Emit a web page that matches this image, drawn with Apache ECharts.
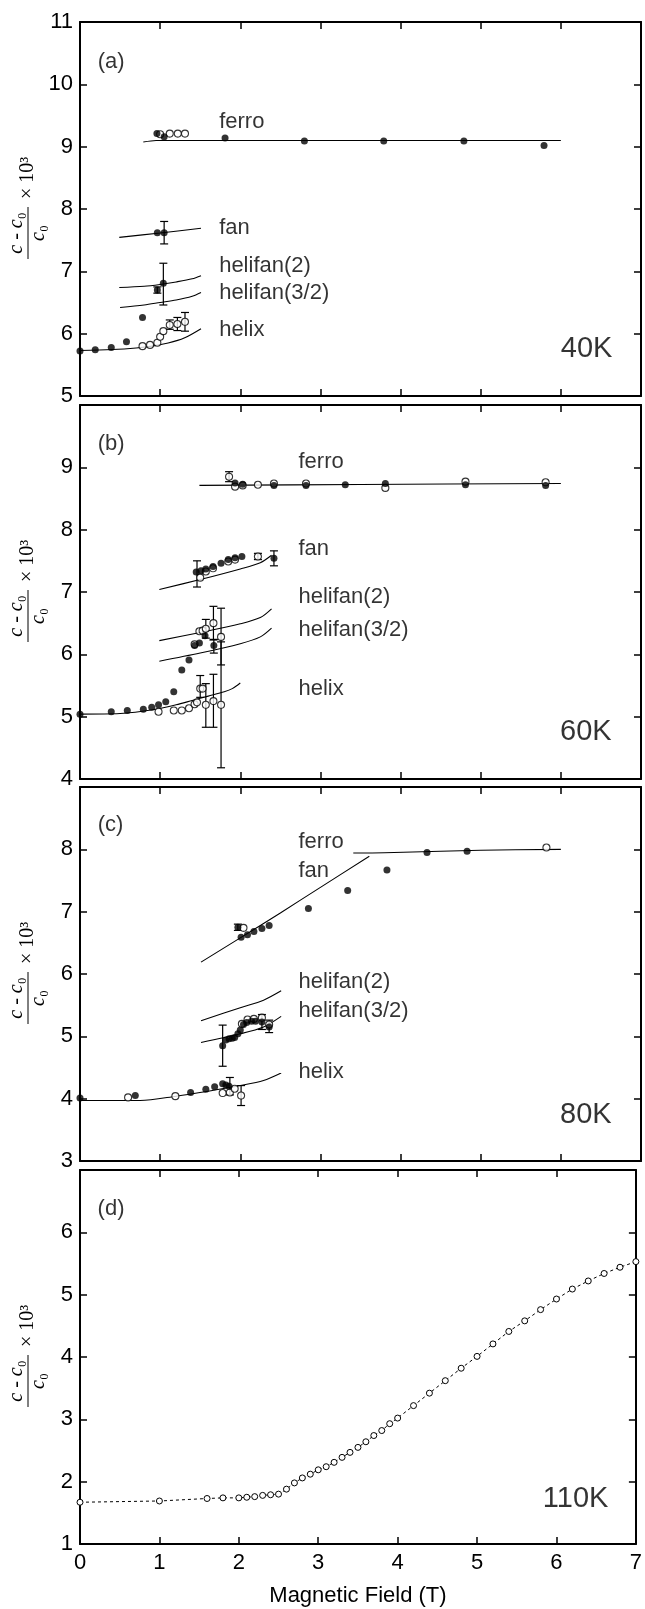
<!DOCTYPE html>
<html>
<head>
<meta charset="utf-8">
<script src="https://cdn.jsdelivr.net/npm/echarts@6/dist/echarts.min.js"></script>
<style>
	html, body { margin: 0; padding: 0; background: #fff; }
	#grafico { width: 645px; height: 1609px; }
</style>
</head>
<body>
<div id="grafico"></div>
<script>
// Valores: campo magnético (T) vs (c - c0)/c0 x 10^3

// ---- Panel (a) 40K ----
const ajusteFerroA = [[0.79, 9.075], [0.95, 9.1], [2, 9.1], [6.0, 9.1]]
const ajusteFanA = [[0.49, 7.545], [1.0, 7.615], [1.51, 7.69]]
const ajusteHelifan2A = [[0.49, 6.74], [0.8, 6.76], [1.0, 6.79], [1.2, 6.83], [1.4, 6.88], [1.51, 6.93]]
const ajusteHelifan32A = [[0.5, 6.42], [0.8, 6.46], [1.0, 6.5], [1.2, 6.54], [1.4, 6.6], [1.51, 6.66]]
const ajusteHelixA = [[0, 5.73], [0.4, 5.745], [0.7, 5.77], [0.9, 5.8], [1.1, 5.85], [1.3, 5.93], [1.51, 6.08]]
const llenosA = [
	[0, 5.72], [0.19, 5.74], [0.39, 5.78], [0.58, 5.87], [0.78, 6.26],
	[0.965, 6.7], [1.04, 6.81], [0.965, 7.62], [1.05, 7.62],
	[0.96, 9.21], [1.05, 9.16], [1.81, 9.14], [2.8, 9.09], [3.79, 9.09], [4.79, 9.09], [5.79, 9.02],
]
const vaciosA = [
	[0.78, 5.8], [0.874, 5.82], [0.965, 5.855], [1.0, 5.95], [1.04, 6.04],
	[1.12, 6.14], [1.215, 6.155], [1.31, 6.19],
	[1.0, 9.2], [1.12, 9.21], [1.22, 9.21], [1.31, 9.21],
]
const erroresA = [
	[1.05, 7.44, 7.8], [1.04, 6.46, 7.13], [0.965, 6.65, 6.75],
	[1.12, 6.07, 6.22], [1.215, 6.05, 6.26], [1.31, 6.04, 6.34],
]

// ---- Panel (b) 60K ----
const ajusteFerroB = [[1.49, 8.71], [3.5, 8.725], [6.0, 8.74]]
const ajusteFanB = [[0.99, 7.04], [1.5, 7.2], [2.0, 7.37], [2.25, 7.47], [2.39, 7.59]]
const ajusteHelifan2B = [[0.99, 6.22], [1.5, 6.35], [2.0, 6.49], [2.25, 6.59], [2.39, 6.73]]
const ajusteHelifan32B = [[0.99, 5.89], [1.5, 6.02], [2.0, 6.17], [2.25, 6.28], [2.39, 6.42]]
const ajusteHelixB = [[0, 5.04], [0.5, 5.05], [0.8, 5.09], [1.0, 5.13], [1.2, 5.19], [1.4, 5.26], [1.6, 5.33], [1.8, 5.4], [1.9, 5.45], [2.0, 5.54]]
const llenosB = [
	[0, 5.04], [0.39, 5.08], [0.59, 5.1], [0.79, 5.12], [0.895, 5.15], [0.98, 5.19], [1.07, 5.24],
	[1.17, 5.4], [1.27, 5.75], [1.36, 5.91], [1.43, 6.14], [1.49, 6.18], [1.56, 6.3], [1.67, 6.14],
	[1.45, 7.32], [1.51, 7.34], [1.57, 7.37], [1.66, 7.41], [1.76, 7.46], [1.85, 7.52], [1.935, 7.55], [2.02, 7.57], [2.42, 7.54],
	[1.935, 8.75], [2.03, 8.73], [2.42, 8.71], [2.82, 8.71], [3.31, 8.72], [3.81, 8.74], [4.81, 8.72], [5.81, 8.71],
]
const vaciosB = [
	[0.98, 5.08], [1.17, 5.1], [1.27, 5.1], [1.36, 5.135], [1.43, 5.2], [1.46, 5.23], [1.5, 5.45], [1.53, 5.45],
	[1.57, 5.19], [1.665, 5.25], [1.76, 5.19],
	[1.43, 6.16], [1.49, 6.37], [1.53, 6.38], [1.57, 6.41], [1.665, 6.5], [1.76, 6.28],
	[1.5, 7.23], [1.57, 7.33], [1.66, 7.38], [1.85, 7.49], [1.935, 7.52], [2.22, 7.57],
	[1.86, 8.85], [1.935, 8.69], [2.03, 8.71], [2.22, 8.72], [2.42, 8.74], [2.82, 8.74], [3.81, 8.67], [4.81, 8.77], [5.81, 8.76],
]
const erroresB = [
	[1.86, 8.77, 8.93], [1.46, 7.08, 7.5], [2.22, 7.52, 7.62], [2.42, 7.42, 7.66],
	[1.57, 6.26, 6.56], [1.665, 6.23, 6.77], [1.76, 5.83, 6.74], [1.67, 6.02, 6.24],
	[1.5, 5.31, 5.66], [1.57, 4.83, 5.53], [1.665, 4.83, 5.68], [1.76, 4.18, 6.2],
]

// ---- Panel (c) 80K ----
const ajusteFerroC = [[3.41, 7.94], [3.8, 7.945], [4.5, 7.97], [5.0, 7.985], [6.0, 8.0]]
const ajusteFanC = [[1.51, 6.19], [2.0, 6.58], [2.5, 6.98], [3.0, 7.39], [3.61, 7.89]]
const ajusteHelifan2C = [[1.51, 5.25], [2.0, 5.46], [2.29, 5.58], [2.51, 5.73]]
const ajusteHelifan32C = [[1.51, 4.9], [2.0, 5.04], [2.29, 5.15], [2.51, 5.32]]
const ajusteHelixC = [[0, 3.97], [0.75, 3.97], [1.2, 4.04], [1.6, 4.12], [2.0, 4.21], [2.29, 4.29], [2.51, 4.41]]
const llenosC = [
	[0, 4.01], [0.69, 4.05], [1.38, 4.1], [1.57, 4.15], [1.68, 4.19], [1.78, 4.24], [1.82, 4.22], [1.86, 4.2],
	[1.78, 4.85], [1.82, 4.94], [1.86, 4.96], [1.9, 4.97], [1.93, 4.98], [1.97, 5.04], [2.0, 5.1], [2.04, 5.19],
	[2.08, 5.22], [2.14, 5.24], [2.19, 5.24], [2.27, 5.23], [2.36, 5.15],
	[1.97, 6.75], [2.01, 6.59], [2.09, 6.63], [2.17, 6.68], [2.27, 6.73], [2.36, 6.78],
	[2.85, 7.05], [3.34, 7.34], [3.83, 7.67], [4.33, 7.95], [4.83, 7.97],
]
const vaciosC = [
	[0.6, 4.02], [1.19, 4.04], [1.78, 4.09], [1.87, 4.1], [1.93, 4.16], [2.01, 4.05],
	[2.02, 5.2], [2.09, 5.27], [2.17, 5.28], [2.27, 5.3], [2.36, 5.19],
	[2.04, 6.74], [5.82, 8.03],
]
const erroresC = [
	[1.78, 4.52, 5.18], [2.27, 5.11, 5.35], [2.36, 5.06, 5.26],
	[2.01, 3.89, 4.21], [1.87, 4.06, 4.34], [1.97, 6.7, 6.8],
]

// ---- Panel (d) 110K ----
const campoD = [0, 1.0, 1.6, 1.8, 2.0, 2.1, 2.2, 2.3, 2.4, 2.5, 2.6, 2.7, 2.8, 2.9, 3.0, 3.1, 3.2, 3.3, 3.4, 3.5,
	3.6, 3.7, 3.8, 3.9, 4.0, 4.2, 4.4, 4.6, 4.8, 5.0, 5.2, 5.4, 5.6, 5.8, 6.0, 6.2, 6.4, 6.6, 6.8, 7.0]
const valoresD = [1.67, 1.69, 1.73, 1.74, 1.74, 1.75, 1.76, 1.78, 1.79, 1.8, 1.88, 1.98, 2.06, 2.12, 2.19, 2.24, 2.31, 2.39, 2.47, 2.55,
	2.64, 2.74, 2.82, 2.93, 3.02, 3.22, 3.42, 3.62, 3.82, 4.01, 4.21, 4.41, 4.58, 4.76, 4.93, 5.09, 5.22, 5.34, 5.44, 5.53]

// Ticks del eje x
const ticksX = ['0', '1', '2', '3', '4', '5', '6', '7']

// Textos de cada panel (posición en unidades de los ejes)
const textosA = [['(a)', 0.215, 10.36], ['ferro', 1.73, 9.4], ['fan', 1.73, 7.7], ['helifan(2)', 1.73, 7.09], ['helifan(3/2)', 1.73, 6.65], ['helix', 1.73, 6.06]]
const textosB = [['(b)', 0.215, 9.38], ['ferro', 2.72, 9.09], ['fan', 2.72, 7.69], ['helifan(2)', 2.72, 6.92], ['helifan(3/2)', 2.72, 6.39], ['helix', 2.72, 5.44]]
const textosC = [['(c)', 0.215, 8.39], ['ferro', 2.72, 8.12], ['fan', 2.72, 7.65], ['helifan(2)', 2.72, 5.87], ['helifan(3/2)', 2.72, 5.41], ['helix', 2.72, 4.43]]
const textosD = [['(d)', 0.215, 6.37]]
const temperaturas = [['40K', 6.65, 5.75], ['60K', 6.64, 4.75], ['80K', 6.64, 3.73], ['110K', 6.66, 1.72]]

const chart = echarts.init(document.getElementById('grafico'))

const paneles = [
	{ top: 22, min: 5, max: 11, ajustes: [ajusteFerroA, ajusteFanA, ajusteHelifan2A, ajusteHelifan32A, ajusteHelixA], llenos: llenosA, vacios: vaciosA, errores: erroresA, textos: textosA },
	{ top: 405, min: 4, max: 10, ajustes: [ajusteFerroB, ajusteFanB, ajusteHelifan2B, ajusteHelifan32B, ajusteHelixB], llenos: llenosB, vacios: vaciosB, errores: erroresB, textos: textosB },
	{ top: 787, min: 3, max: 9, ajustes: [ajusteFerroC, ajusteFanC, ajusteHelifan2C, ajusteHelifan32C, ajusteHelixC], llenos: llenosC, vacios: vaciosC, errores: erroresC, textos: textosC },
	{ top: 1170, min: 1, max: 7, ajustes: [], llenos: [], vacios: [], errores: [], textos: textosD },
]
const ALTO = 374

const fuente = '"Liberation Sans", Arial, Helvetica, sans-serif'
const fuenteSerif = '"Liberation Serif", "Times New Roman", serif'

const lineaEje = { onZero: false, lineStyle: { color: '#000', width: 2 } }
const tickEje = { inside: true, length: 7, lineStyle: { color: '#000', width: 1.5 } }

const opcion = { animation: false, grid: [], xAxis: [], yAxis: [], series: [], graphic: [] }

paneles.forEach((p, i) => {
	const esUltimo = i === paneles.length - 1
	opcion.grid.push({ left: 80, right: 4, top: p.top, height: ALTO })

	// eje x inferior
	opcion.xAxis[i] = {
		type: 'value', gridIndex: i, min: 0, max: 7, interval: 1, position: 'bottom',
		axisLine: lineaEje, axisTick: tickEje, splitLine: { show: false },
		axisLabel: {
			show: esUltimo, fontSize: 22, color: '#000', fontFamily: fuente, margin: 8,
			formatter: (v) => ticksX[Math.round(v)],
		},
		name: esUltimo ? 'Magnetic Field (T)' : '',
		nameLocation: 'middle', nameGap: 41,
		nameTextStyle: { fontSize: 22, color: '#000', fontFamily: fuente },
	}
	// eje x superior (solo ticks)
	opcion.xAxis[4 + i] = {
		type: 'value', gridIndex: i, min: 0, max: 7, interval: 1, position: 'top',
		axisLine: lineaEje, axisTick: tickEje, splitLine: { show: false }, axisLabel: { show: false },
	}
	// eje y izquierdo
	opcion.yAxis[i] = {
		type: 'value', gridIndex: i, min: p.min, max: p.max, interval: 1, position: 'left',
		axisLine: lineaEje, axisTick: tickEje, splitLine: { show: false },
		axisLabel: { fontSize: 22, color: '#000', fontFamily: fuente, margin: 7, showMaxLabel: i === 0, showMinLabel: true },
	}
	// eje y derecho (solo ticks)
	opcion.yAxis[4 + i] = {
		type: 'value', gridIndex: i, min: p.min, max: p.max, interval: 1, position: 'right',
		axisLine: lineaEje, axisTick: tickEje, splitLine: { show: false }, axisLabel: { show: false },
	}

	// curvas teóricas
	p.ajustes.forEach((datos) => {
		opcion.series.push({
			type: 'line', xAxisIndex: i, yAxisIndex: i, data: datos, symbol: 'none', smooth: 0.3,
			lineStyle: { color: '#000', width: 1.1 }, z: 2,
		})
	})

	// barras de error
	if (p.errores.length) {
		opcion.series.push({
			type: 'custom', xAxisIndex: i, yAxisIndex: i, data: p.errores, z: 3,
			encode: { x: 0, y: [1, 2] },
			renderItem: (params, api) => {
				const abajo = api.coord([api.value(0), api.value(1)])
				const arriba = api.coord([api.value(0), api.value(2)])
				const m = 4
				const estilo = { stroke: '#000', lineWidth: 1.2 }
				return {
					type: 'group',
					children: [
						{ type: 'line', shape: { x1: abajo[0], y1: abajo[1], x2: arriba[0], y2: arriba[1] }, style: estilo },
						{ type: 'line', shape: { x1: abajo[0] - m, y1: abajo[1], x2: abajo[0] + m, y2: abajo[1] }, style: estilo },
						{ type: 'line', shape: { x1: arriba[0] - m, y1: arriba[1], x2: arriba[0] + m, y2: arriba[1] }, style: estilo },
					],
				}
			},
		})
	}

	// puntos vacíos y llenos
	if (p.vacios.length) {
		opcion.series.push({
			type: 'scatter', xAxisIndex: i, yAxisIndex: i, data: p.vacios, symbolSize: 7, z: 4,
			itemStyle: { color: '#fff', borderColor: '#000', borderWidth: 1.1 },
		})
	}
	if (p.llenos.length) {
		opcion.series.push({
			type: 'scatter', xAxisIndex: i, yAxisIndex: i, data: p.llenos, symbolSize: 7, z: 5,
			itemStyle: { color: '#000' },
		})
	}

	// textos del panel
	opcion.series.push({
		type: 'scatter', xAxisIndex: i, yAxisIndex: i, symbolSize: 1, z: 6, silent: true,
		itemStyle: { color: 'rgba(0,0,0,0)' },
		data: p.textos.map(([t, x, y]) => ({ name: t, value: [x, y] })),
		label: {
			show: true, position: 'right', distance: 0, formatter: '{b}',
			fontSize: 22, color: '#000', fontFamily: fuente,
		},
	})
	const [tTexto, tx, ty] = temperaturas[i]
	opcion.series.push({
		type: 'scatter', xAxisIndex: i, yAxisIndex: i, symbolSize: 1, z: 6, silent: true,
		itemStyle: { color: 'rgba(0,0,0,0)' },
		data: [{ name: tTexto, value: [tx, ty] }],
		label: {
			show: true, position: 'left', distance: 0, formatter: '{b}',
			fontSize: 29, color: '#000', fontFamily: fuente,
		},
	})

	// rótulo vertical del eje y: (c - c0)/c0 x 10^3
	opcion.graphic.push({
		type: 'group', x: 28, y: p.top + ALTO / 2 - 5, rotation: Math.PI / 2,
		children: [
			{
				type: 'text', x: -29, y: -1,
				style: {
					text: '{i|c} - {i|c}{n|₀}', textAlign: 'center', textVerticalAlign: 'bottom', fill: '#000',
					rich: { i: { fontFamily: fuenteSerif, fontStyle: 'italic', fontSize: 20 }, n: { fontFamily: fuenteSerif, fontSize: 20 } },
					font: '20px ' + fuenteSerif,
				},
			},
			{ type: 'line', shape: { x1: -55, y1: 0, x2: -3, y2: 0 }, style: { stroke: '#000', lineWidth: 1 } },
			{
				type: 'text', x: -29, y: 1,
				style: {
					text: '{i|c}{n|₀}', textAlign: 'center', textVerticalAlign: 'top', fill: '#000',
					rich: { i: { fontFamily: fuenteSerif, fontStyle: 'italic', fontSize: 20 }, n: { fontFamily: fuenteSerif, fontSize: 20 } },
					font: '20px ' + fuenteSerif,
				},
			},
			{
				type: 'text', x: 5, y: 0,
				style: { text: '× 10³', font: '20px ' + fuenteSerif, textAlign: 'left', textVerticalAlign: 'middle', fill: '#000' },
			},
		],
	})
})

// Panel (d): puntos vacíos unidos con línea discontinua
opcion.series.push({
	type: 'line', xAxisIndex: 3, yAxisIndex: 3,
	data: campoD.map((x, k) => [x, valoresD[k]]),
	symbol: 'circle', symbolSize: 6, showAllSymbol: true, z: 4,
	itemStyle: { color: '#fff', borderColor: '#000', borderWidth: 1 },
	lineStyle: { color: '#000', width: 1, type: [3, 3] },
})

chart.setOption(opcion)
</script>
</body>
</html>
